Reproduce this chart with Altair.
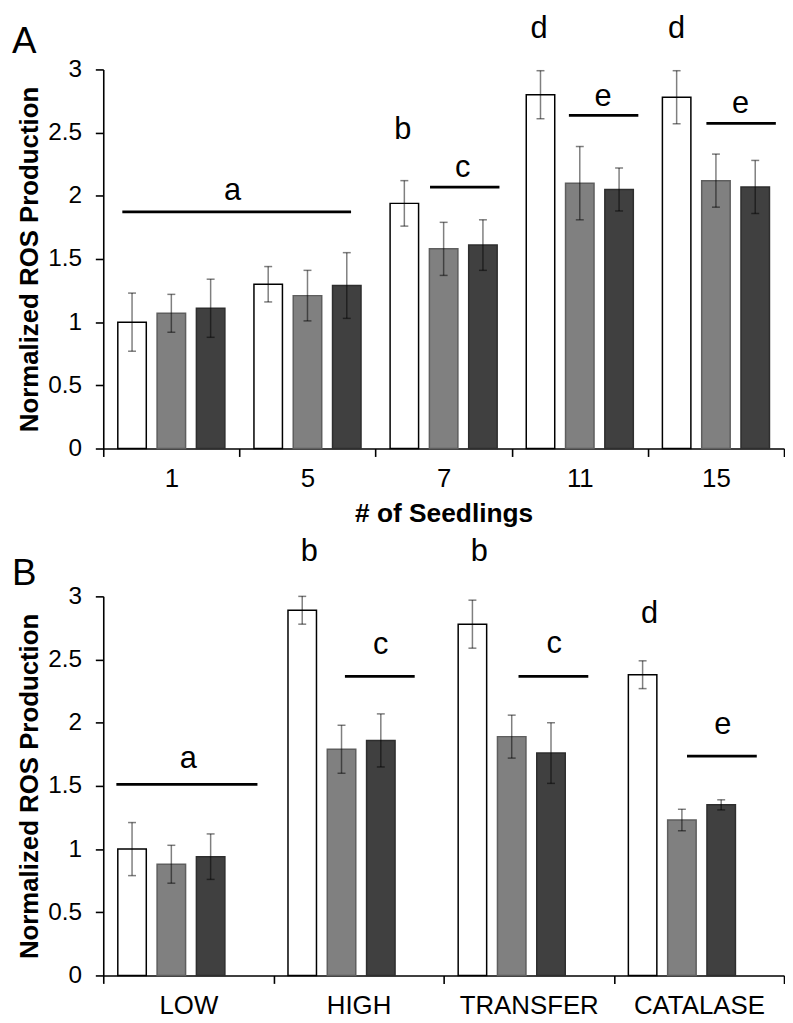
import altair as alt
import pandas as pd

FONT = "Liberation Sans"
series = ["S1", "S2", "S3"]
fill_colors = ["#ffffff", "#808080", "#404040"]
stroke_colors = ["#000000", "#5e5e5e", "#2e2e2e"]

# Panel A
seedlings = ["1", "5", "7", "11", "15"]
a_s1 = [1.00, 1.30, 1.94, 2.80, 2.78]
a_s2 = [1.07, 1.21, 1.58, 2.10, 2.12]
a_s3 = [1.11, 1.29, 1.61, 2.05, 2.07]
a_e1 = [0.23, 0.14, 0.18, 0.19, 0.21]
a_e2 = [0.15, 0.20, 0.21, 0.29, 0.21]
a_e3 = [0.23, 0.26, 0.20, 0.17, 0.21]

a_letters = ["a", "b", "c", "d", "e", "d", "e"]
a_letter_x = [0.95, 2.20, 2.64, 3.20, 3.67, 4.21, 4.68]
a_letter_y = [1.964, 2.447, 2.147, 3.252, 2.71, 3.252, 2.657]
a_line_x1 = [0.14, 2.40, 3.42, 4.43]
a_line_x2 = [1.82, 2.91, 3.93, 4.94]
a_line_y = [1.872, 2.068, 2.637, 2.574]

# Panel B
conditions = ["LOW", "HIGH", "TRANSFER", "CATALASE"]
b_s1 = [1.00, 2.89, 2.78, 2.38]
b_s2 = [0.88, 1.79, 1.89, 1.23]
b_s3 = [0.94, 1.86, 1.76, 1.35]
b_e1 = [0.21, 0.11, 0.19, 0.11]
b_e2 = [0.15, 0.19, 0.17, 0.085]
b_e3 = [0.18, 0.21, 0.24, 0.04]

b_letters = ["a", "b", "c", "b", "c", "d", "e"]
b_letter_x = [0.50, 1.21, 1.63, 2.21, 2.65, 3.21, 3.64]
b_letter_y = [1.638, 3.276, 2.542, 3.276, 2.555, 2.79, 1.913]
b_line_x1 = [0.077, 1.42, 2.44, 3.43]
b_line_x2 = [0.906, 1.83, 2.85, 3.84]
b_line_y = [1.512, 2.366, 2.366, 1.735]


def bar_frame(cats, vals, errs):
    rows = []
    for s, v_list, e_list in zip(series, vals, errs):
        for c, v, e in zip(cats, v_list, e_list):
            rows.append({"cat": c, "series": s, "value": v, "lo": v - e, "hi": v + e})
    return pd.DataFrame(rows)


def panel(cats, vals, errs, letters, lx, ly, x1, x2, ly2, panel_label, xtitle, w, h, label_y):
    df = bar_frame(cats, vals, errs)
    n = len(cats)
    xenc = alt.X("cat:N", sort=cats, title=xtitle,
                 scale=alt.Scale(paddingInner=0, paddingOuter=0),
                 axis=alt.Axis(tickBand="extent", labelAngle=0, labelFontSize=26,
                               labelFont=FONT, labelColor="#000", labelPadding=9,
                               titleFont=FONT, titleFontSize=26.5, titleFontWeight="bold",
                               titleColor="#000", titlePadding=10,
                               domainColor="#000", domainWidth=1.6, tickColor="#000",
                               tickWidth=1.6, tickSize=8))
    xoff = alt.XOffset("series:N", sort=series,
                       scale=alt.Scale(paddingInner=0.275, paddingOuter=0.37))
    yscale = alt.Scale(domain=[0, 3], nice=False)
    yenc = alt.Y("value:Q", scale=yscale, title="Normalized ROS Production",
                 axis=alt.Axis(values=[0, 0.5, 1, 1.5, 2, 2.5, 3], format=".1~f", grid=False,
                               labelFontSize=24.5, labelFont=FONT, labelColor="#000",
                               labelPadding=14, titleFont=FONT, titleFontSize=26,
                               titleFontWeight="bold", titleColor="#000", titlePadding=5,
                               domainColor="#000", domainWidth=1.6, tickColor="#000",
                               tickWidth=1.6, tickSize=8))
    bars = alt.Chart(df).mark_bar(strokeWidth=1.5).encode(
        x=xenc, xOffset=xoff, y=yenc,
        fill=alt.Fill("series:N", scale=alt.Scale(domain=series, range=fill_colors), legend=None),
        stroke=alt.Stroke("series:N", scale=alt.Scale(domain=series, range=stroke_colors), legend=None),
    )
    err = alt.Chart(df).mark_rule(color="black", opacity=0.5, strokeWidth=1.5).encode(
        x=alt.X("cat:N", sort=cats), xOffset=xoff, y=alt.Y("lo:Q", scale=yscale), y2="hi:Q")
    cap_lo = alt.Chart(df).mark_tick(color="black", opacity=0.5, thickness=1.5, size=8,
                                     orient="horizontal").encode(
        x=alt.X("cat:N", sort=cats), xOffset=xoff, y=alt.Y("lo:Q", scale=yscale))
    cap_hi = alt.Chart(df).mark_tick(color="black", opacity=0.5, thickness=1.5, size=8,
                                     orient="horizontal").encode(
        x=alt.X("cat:N", sort=cats), xOffset=xoff, y=alt.Y("hi:Q", scale=yscale))
    base = alt.layer(bars, err, cap_lo, cap_hi)

    qscale = alt.Scale(domain=[0, n], nice=False, zero=False)
    txt_df = pd.DataFrame({"letter": letters, "x": lx, "y": ly})
    line_df = pd.DataFrame({"x1": x1, "x2": x2, "y": ly2})
    lines = alt.Chart(line_df).mark_rule(color="black", strokeWidth=2.8).encode(
        x=alt.X("x1:Q", scale=qscale, axis=None), x2="x2:Q",
        y=alt.Y("y:Q", scale=yscale))
    texts = alt.Chart(txt_df).mark_text(fontSize=31, font=FONT, baseline="alphabetic",
                                        color="#000").encode(
        x=alt.X("x:Q", scale=qscale, axis=None), y=alt.Y("y:Q", scale=yscale), text="letter:N")
    plabel = alt.Chart(pd.DataFrame({"t": [panel_label]})).mark_text(
        fontSize=37, font=FONT, align="left", baseline="alphabetic", color="#000").encode(
        x=alt.value(-92), y=alt.value(label_y), text="t:N")
    ann = alt.layer(lines, texts, plabel)
    return alt.layer(base, ann).resolve_scale(x="independent").properties(width=w, height=h)


pa = panel(seedlings, [a_s1, a_s2, a_s3], [a_e1, a_e2, a_e3], a_letters, a_letter_x, a_letter_y,
           a_line_x1, a_line_x2, a_line_y, "A", "# of Seedlings", 686, 382, -17)
pb = panel(conditions, [b_s1, b_s2, b_s3], [b_e1, b_e2, b_e3], b_letters, b_letter_x, b_letter_y,
           b_line_x1, b_line_x2, b_line_y, "B", None, 686, 382, -11)

chart = alt.vconcat(pa, pb, spacing=8).properties(
    padding={"left": 4, "top": 0, "right": 0, "bottom": 0}
).configure_view(stroke=None)

chart.save("out.html", embed_options={"renderer": "svg", "actions": False})
